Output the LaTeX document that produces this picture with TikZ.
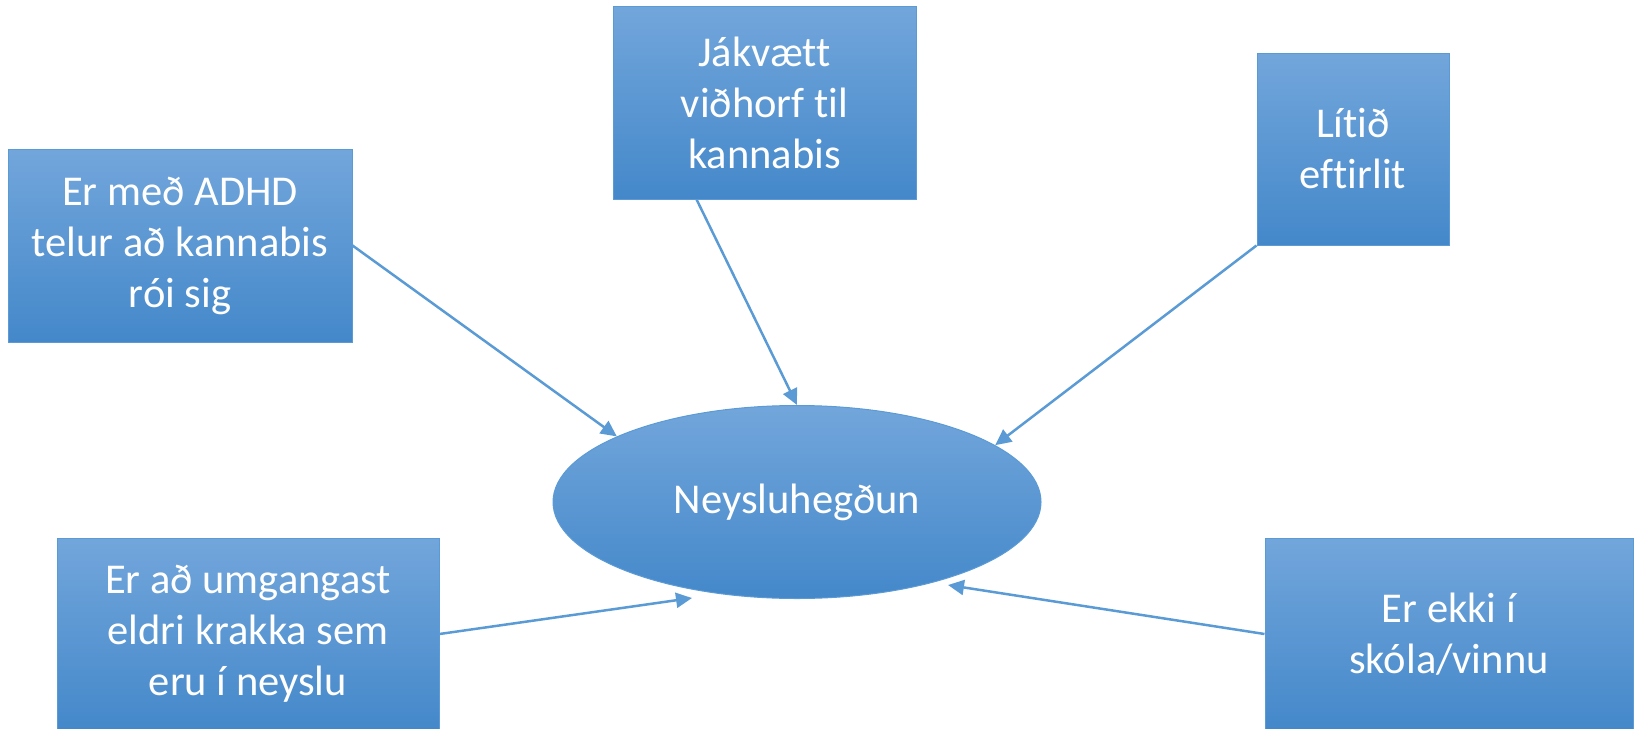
\documentclass[tikz,border=0pt]{standalone}
\usepackage{fontspec}
\setmainfont[Ligatures=NoCommon]{Carlito}
\usetikzlibrary{arrows.meta,shapes.geometric,positioning}
\definecolor{boxtop}{RGB}{114,166,219}
\definecolor{boxmid}{RGB}{91,157,220}
\definecolor{boxbot}{RGB}{68,136,202}
\definecolor{boxline}{RGB}{91,155,213}
\tikzset{
  box/.style  = { draw=boxline, line width=1pt, rectangle, inner sep=0pt,
    top color=boxtop, middle color=boxmid, bottom color=boxbot,
    text=white, align=center, font=\fontsize{42.5}{51}\selectfont },
  oval/.style = { box, ellipse, minimum width=488pt, minimum height=193pt },
  lnk/.style  = { draw=boxline, line width=2.5pt,
    -{Triangle[length=16pt,width=15pt]} }
}

\begin{document}
\begin{tikzpicture}[x=1pt,y=-1pt]
    \useasboundingbox (0,0) rectangle (1637,728);
    \node[oval] (v0) at (797,502) {Neysluhegðun};
    \node[box, minimum width=344pt, minimum height=193pt] (v1) at (180,245.5)
      {Er með ADHD\\telur að kannabis\\rói sig};
    \node[box, minimum width=303pt, minimum height=193pt] (v2) at (764.5,102.5)
      {Jákvætt\\viðhorf til\\kannabis};
    \node[box, minimum width=192pt, minimum height=192pt] (v3) at (1353,149)
      {Lítið\\eftirlit};
    \node[box, minimum width=382pt, minimum height=192pt] (v4) at (248,634)
      {Er að umgangast\\eldri krakka sem\\eru í neyslu};
    \node[box, minimum width=368pt, minimum height=192pt] (v5) at (1449,634)
      {Er ekki í\\skóla/vinnu};
    % arrow ends that stop short of the oval
    \coordinate (t4) at (692,598);
    \coordinate (t5) at (948,585);

    \draw[lnk] (v1.east) -- (v0.160);
    \draw[lnk] (v2.235) -- (v0.north);
    \draw[lnk] (v3.south west) -- (v0.16);
    \draw[lnk] (v4.east) -- (t4);
    \draw[lnk] (v5.west) -- (t5);
  \end{tikzpicture}
\end{document}
